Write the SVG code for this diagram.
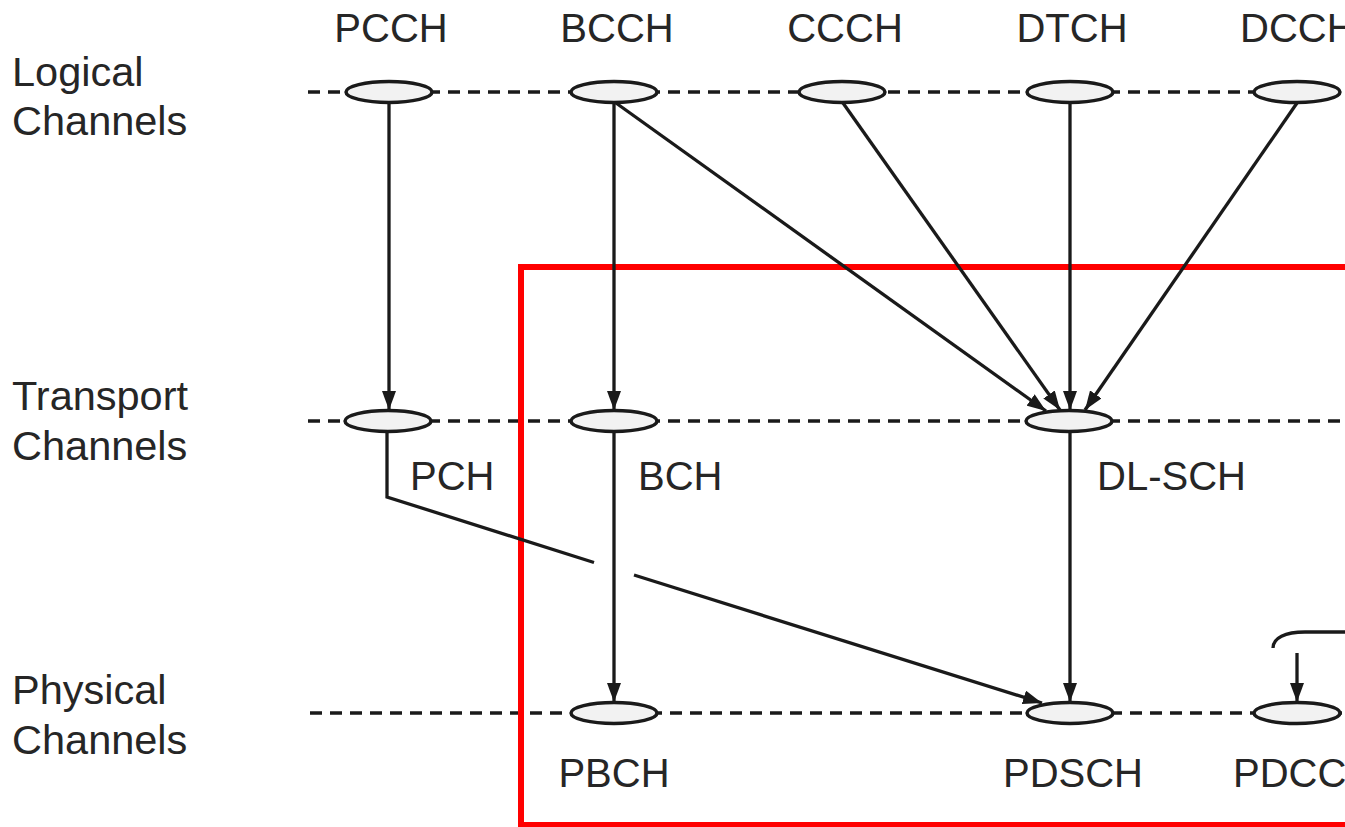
<svg xmlns="http://www.w3.org/2000/svg" width="1345" height="827" viewBox="0 0 1345 827">
<defs>
<style>
.t{font-family:"Liberation Sans",Arial,sans-serif;font-size:40px;fill:#262626}
.r{font-size:41.5px}
.m{text-anchor:middle}
.dash{stroke:#1a1a1a;stroke-width:3.5;stroke-dasharray:12 8;fill:none}
.ch{fill:#f2f2f2;stroke:#1a1a1a;stroke-width:3.5}
.ln{stroke:#1a1a1a;stroke-width:3.3;fill:none}
.ar{stroke:#1a1a1a;stroke-width:3.3;fill:none;marker-end:url(#ah)}
</style>
<marker id="ah" markerUnits="userSpaceOnUse" markerWidth="19" markerHeight="14" refX="19" refY="7" orient="auto">
<path d="M0,0 L19,7 L0,14 z" fill="#1a1a1a"/>
</marker>
</defs>
<rect width="1345" height="827" fill="#ffffff"/>
<g id="row-labels">
<text class="t r" x="12" y="86">Logical</text>
<text class="t r" x="12" y="135">Channels</text>
<text class="t r" x="12" y="410">Transport</text>
<text class="t r" x="12" y="460">Channels</text>
<text class="t r" x="12" y="704">Physical</text>
<text class="t r" x="12" y="754">Channels</text>
</g>
<g id="levels">
<line class="dash" x1="308" y1="92" x2="1345" y2="92"/>
<line class="dash" x1="308" y1="421" x2="1345" y2="421"/>
<line class="dash" x1="310" y1="713" x2="1345" y2="713"/>
</g>
<g id="red-box">
<rect x="521" y="267" width="840" height="558" fill="none" stroke="#ff0000" stroke-width="6"/>
</g>
<g id="connectors">
<line class="ar" x1="389" y1="103" x2="389" y2="410"/>
<line class="ar" x1="614" y1="103" x2="614" y2="410"/>
<line class="ar" x1="616" y1="103" x2="1046" y2="411"/>
<line class="ar" x1="843" y1="103" x2="1060" y2="410"/>
<line class="ar" x1="1070" y1="103" x2="1070" y2="410"/>
<line class="ar" x1="1297" y1="103" x2="1085" y2="410"/>
<polyline class="ln" points="387,432 387,497 594,562.5"/>
<line class="ar" x1="634" y1="575" x2="1042" y2="703"/>
<line class="ar" x1="614" y1="432" x2="614" y2="702"/>
<line class="ar" x1="1070" y1="432" x2="1070" y2="702"/>
<path class="ln" d="M1273,648 C1273,638 1285,632 1305,632 L1345,632"/>
<line class="ar" x1="1297" y1="653" x2="1297" y2="702"/>
</g>
<g id="PCCH"><ellipse class="ch" cx="389" cy="92" rx="43" ry="10.5"/><text class="t m" x="391" y="42">PCCH</text></g>
<g id="BCCH"><ellipse class="ch" cx="614" cy="92" rx="43" ry="10.5"/><text class="t m" x="617" y="42">BCCH</text></g>
<g id="CCCH"><ellipse class="ch" cx="842" cy="92" rx="43" ry="10.5"/><text class="t m" x="845" y="42">CCCH</text></g>
<g id="DTCH"><ellipse class="ch" cx="1070" cy="92" rx="43" ry="10.5"/><text class="t m" x="1072" y="42">DTCH</text></g>
<g id="DCCH"><ellipse class="ch" cx="1297" cy="92" rx="43" ry="10.5"/><text class="t" x="1240" y="42">DCCH</text></g>
<g id="PCH"><ellipse class="ch" cx="388" cy="421" rx="43" ry="10.5"/><text class="t" x="410" y="490">PCH</text></g>
<g id="BCH"><ellipse class="ch" cx="614" cy="421" rx="43" ry="10.5"/><text class="t" x="638" y="490">BCH</text></g>
<g id="DL-SCH"><ellipse class="ch" cx="1069" cy="421" rx="43" ry="10.5"/><text class="t" x="1097" y="490">DL-SCH</text></g>
<g id="PBCH"><ellipse class="ch" cx="614" cy="713" rx="43" ry="10.5"/><text class="t m" x="614" y="787">PBCH</text></g>
<g id="PDSCH"><ellipse class="ch" cx="1070" cy="713" rx="43" ry="10.5"/><text class="t m" x="1073" y="787">PDSCH</text></g>
<g id="PDCCH"><ellipse class="ch" cx="1297" cy="713" rx="43" ry="10.5"/><text class="t" x="1233" y="787">PDCCH</text></g>
</svg>
